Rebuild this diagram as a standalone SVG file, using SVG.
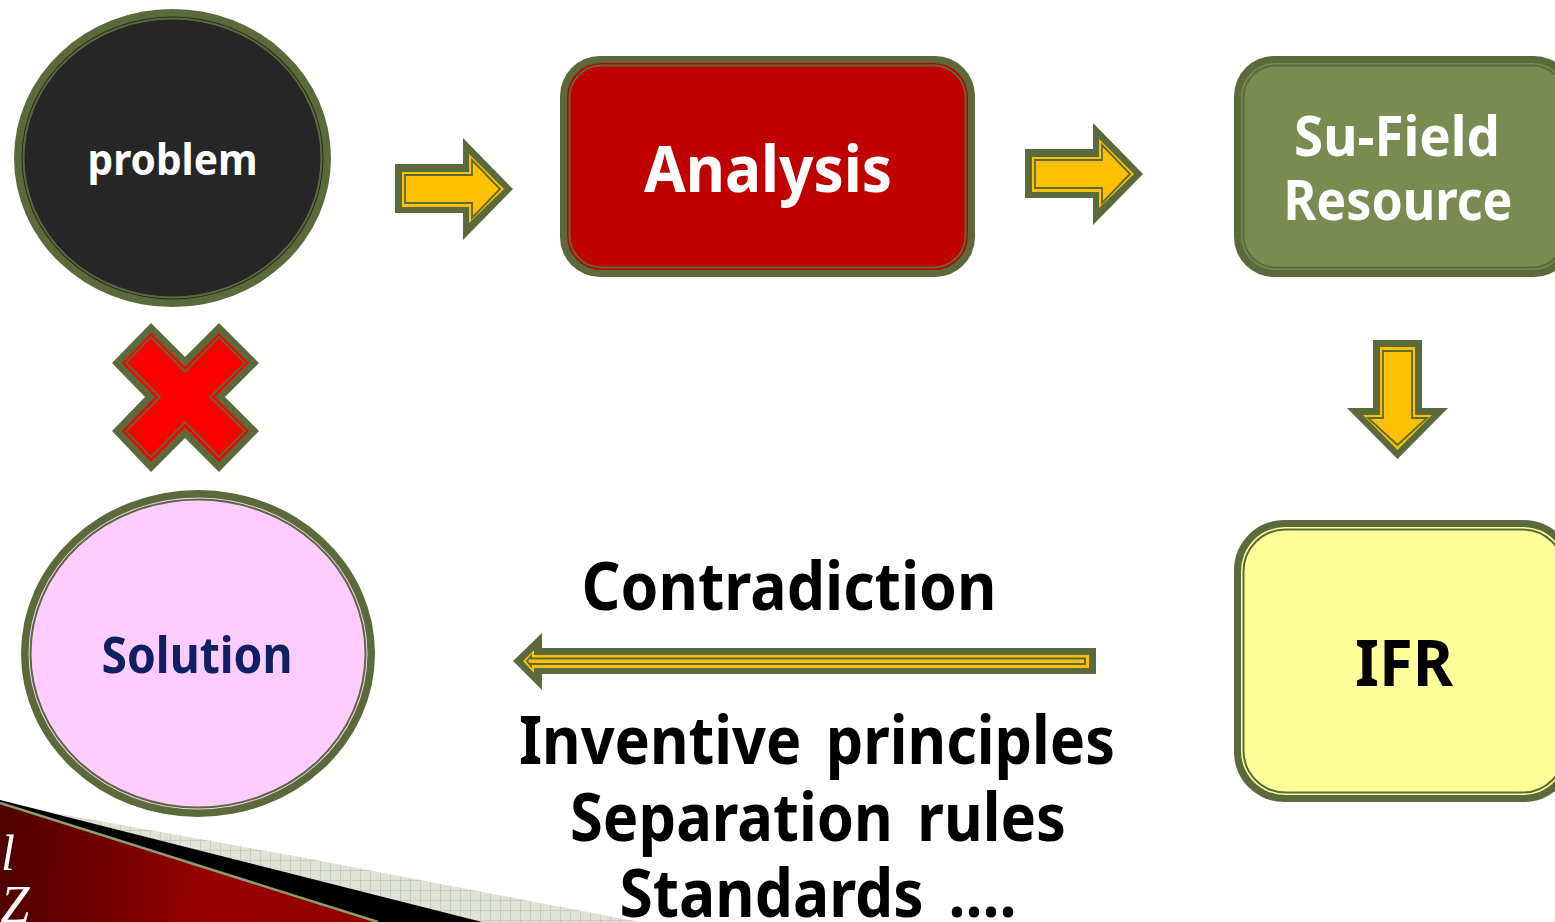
<svg xmlns="http://www.w3.org/2000/svg" width="1555" height="922" viewBox="0 0 1555 922">
<style>
text{font-family:"Noto Sans","Open Sans","Liberation Sans",sans-serif;font-weight:700;text-anchor:middle}
.w{fill:#fff}.k{fill:#000}
.o{fill:#5A6A3B}
.g{fill:#FFC000}
.l{fill:#FFC000;stroke:#5A6A3B;stroke-width:1.8}
.nl{fill:none;stroke:#5A6A3B}
.s{font-family:"Liberation Serif",serif;font-style:italic;font-weight:400}
</style>
<defs>
<linearGradient id="red" gradientUnits="userSpaceOnUse" x1="0" y1="850" x2="400" y2="880">
<stop offset="0" stop-color="#4F0000"/><stop offset="0.55" stop-color="#9A0000"/><stop offset="1" stop-color="#8A0000"/>
</linearGradient>
<pattern id="hatch" patternUnits="userSpaceOnUse" width="10" height="10">
<rect width="10" height="10" fill="#DFE2D7"/>
<path d="M0 .5H10M.5 0V10" stroke="#C9CDBE" stroke-width="1"/>
</pattern>
<g id="rarrow">
<polygon class="o" points="395,164 463,164 463,138 513,189 463,240 463,213 395,213"/>
<polygon class="g" points="402,172 469,172 469,154 504,189 469,223 469,207 402,207"/>
<polygon class="l" points="405,175 472,175 472,160 500,189 472,218 472,203 405,203"/>
</g>
</defs>

<g id="footer">
<polygon fill="url(#hatch)" points="0,800 60,814 300,857 640,922 0,922"/>
<polygon fill="#000" points="0,800 482,922 0,922"/>
<polygon fill="url(#red)" points="0,803 378,922 0,922"/>
<path d="M0 803L378 922" stroke="#8E9C74" stroke-width="2.5" fill="none"/>
<text x="8" y="870" font-size="50" class="w s">l</text>
<text x="15" y="922" font-size="52" class="w s">Z</text>
</g>

<g id="connectors">
<use id="arrow-problem-analysis" href="#rarrow"/>
<use id="arrow-analysis-sufield" href="#rarrow" x="630" y="-15"/>
<g id="arrow-sufield-ifr">
<polygon class="o" points="1373,340 1422,340 1422,408 1448,408 1397.5,459 1347,408 1373,408"/>
<polygon class="g" points="1380,347 1415,347 1415,415 1432,415 1397.5,450 1363,415 1380,415"/>
<polygon class="l" points="1383,351 1412,351 1412,418 1427,418 1397.5,445 1368,418 1383,418"/>
</g>
<g id="arrow-ifr-solution">
<polygon class="o" points="1096,648 542,648 542,633 513,661 542,690 542,674 1096,674"/>
<polygon class="g" points="1089,655 534,655 534,650 523,661 534,673 534,668 1089,668"/>
<polygon class="l" points="1085,658.500 531,658.500 531,656 527,661 531,666 531,664 1085,664"/>
</g>
</g>

<g id="cross">
<polygon class="o" points="151,323 185,357 219,323 259,363 225,397 259,431 219,472 185,438 151,472 112,431 145,397 112,363"/>
<polygon fill="#FF0000" points="151,333 185,367 219,333 249,363 215,397 249,431 219,462 185,428 151,462 122,431 155,397 122,363"/>
<polygon fill="#FF0000" stroke="#5A6A3B" stroke-width="1.800" points="151,337 185,372 219,337 245,363 210,397 245,431 219,457 185,422 151,457 126,431 160,397 126,363"/>
</g>

<g id="problem">
<ellipse cx="172.500" cy="158" rx="158.500" ry="149" class="o"/>
<ellipse cx="172.500" cy="158" rx="151" ry="141.500" fill="#262626"/>
<ellipse cx="172.500" cy="158" rx="149" ry="139.500" class="nl" stroke-width="2"/>
<text x="172.500" y="175" font-size="43" class="w" textLength="170" lengthAdjust="spacingAndGlyphs">problem</text>
</g>

<g id="analysis">
<rect x="560" y="56" width="415" height="221" rx="40" class="o"/>
<rect x="567" y="63" width="401" height="207" rx="34" fill="#C00000"/>
<rect x="569.500" y="65.500" width="396" height="202" rx="32" fill="#C00000" stroke="#5A6A3B" stroke-width="2"/>
<text x="768" y="192" font-size="64" class="w" textLength="248" lengthAdjust="spacingAndGlyphs">Analysis</text>
</g>

<g id="sufield">
<rect x="1234" y="56" width="340" height="221" rx="40" class="o"/>
<rect x="1241" y="63" width="326" height="207" rx="34" fill="#78894F"/>
<rect x="1243.500" y="65.500" width="321" height="202" rx="32" fill="#7A8B52" stroke="#5A6A3B" stroke-width="2"/>
<text x="1397" y="156" font-size="55" class="w" textLength="206" lengthAdjust="spacingAndGlyphs">Su-Field</text>
<text x="1398" y="220" font-size="55" class="w" textLength="229" lengthAdjust="spacingAndGlyphs">Resource</text>
</g>

<g id="ifr">
<rect x="1234" y="520" width="340" height="282" rx="50" class="o"/>
<rect x="1241" y="527" width="326" height="268" rx="44" fill="#FFFF99"/>
<rect x="1243.500" y="529.500" width="321" height="263" rx="42" fill="#FFFF99" stroke="#5A6A3B" stroke-width="2"/>
<text x="1404" y="686" font-size="64" class="k" textLength="98" lengthAdjust="spacingAndGlyphs">IFR</text>
</g>

<g id="solution">
<ellipse cx="198" cy="653.500" rx="177" ry="163.500" class="o"/>
<ellipse cx="198" cy="653.500" rx="169.500" ry="156" fill="#FFCCFF"/>
<ellipse cx="198" cy="653.500" rx="167.500" ry="154" fill="#FFCCFF" stroke="#5A6A3B" stroke-width="2"/>
<text x="197" y="673" font-size="50" fill="#0F2060" textLength="191" lengthAdjust="spacingAndGlyphs">Solution</text>
</g>

<g id="labels">
<text x="789" y="610" font-size="66" class="k" textLength="415" lengthAdjust="spacingAndGlyphs">Contradiction</text>
<text x="817" y="764" font-size="66" class="k" word-spacing="10" textLength="596" lengthAdjust="spacingAndGlyphs">Inventive principles</text>
<text x="818" y="841" font-size="66" class="k" word-spacing="10" textLength="496" lengthAdjust="spacingAndGlyphs">Separation rules</text>
<text x="818" y="917" font-size="66" class="k" word-spacing="10" textLength="397" lengthAdjust="spacingAndGlyphs">Standards ....</text>
</g>
</svg>
